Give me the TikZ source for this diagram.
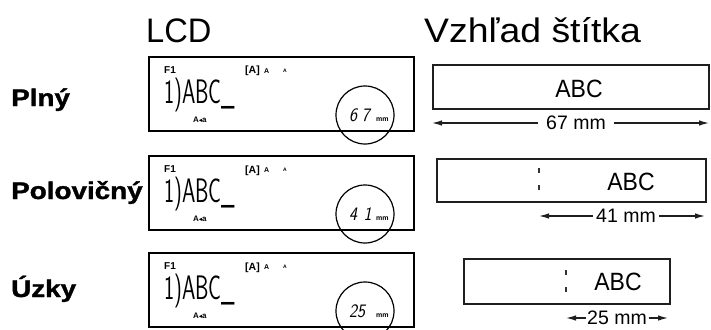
\documentclass[tikz,border=0pt]{standalone}
\usepackage{fontspec}
\setmainfont{Liberation Sans}
\newfontfamily\dv{DejaVu Sans}
\newfontfamily\heavy{Liberation Sans Bold}[FakeBold=1.3]
\usetikzlibrary{arrows.meta}
\tikzset{
  txt/.style={anchor=base west, inner sep=0pt},
  rowlabel/.style={anchor=base west, inner sep=0pt, font=\fontsize{24}{26}\selectfont\heavy},
  lcdbox/.style={draw=black, line width=1.8pt, anchor=north west, minimum width=265pt, minimum height=74pt, inner sep=0pt},
  lblbox/.style={draw=black!88, line width=1.5pt, anchor=north west, inner sep=0pt},
  zoomcirc/.style={draw=black, line width=1.2pt, circle, minimum size=58pt, inner sep=0pt},
  dim/.style={draw=black!88, line width=1.2pt, -{Latex[length=10pt,width=5.5pt]}},
  dimtext/.style={inner ysep=0pt, font=\fontsize{19.5}{20}\selectfont},
  cutmark/.style={draw=black!80, line width=1.1pt, dash pattern=on 5pt off 12pt},
}
\begin{document}
\begin{tikzpicture}[x=1pt,y=-1pt]
\useasboundingbox (0,0) rectangle (711,329);
% titles
\node[txt] (tlcd) at (146,42) {\fontsize{34}{34}\selectfont\scalebox{0.96}[1]{LCD}};
\node[txt] (tlbl) at (424,42) {\fontsize{34}{34}\selectfont\scalebox{1.1}[1]{Vzhľad štítka}};
% row labels
\node[rowlabel] (rp) at (11,106) {\scalebox{1.16}[1]{Plný}};
\node[rowlabel] (rh) at (11,199) {\scalebox{1.16}[1]{Polovičný}};
\node[rowlabel] (ru) at (11,297) {\scalebox{1.16}[1]{Úzky}};
% LCD screens
\foreach \i/\dy/\num in {1/0/{6\hspace{5pt}7},2/99/{4\hspace{7pt}1},3/196/{25}}{
  \begin{scope}[yshift=-\dy pt]
    \node[lcdbox] (lcd\i) at (148,56) {};
    \node[txt] (f\i) at (164,73) {\fontsize{10}{10}\selectfont\bfseries F1};
    \node[txt] (ca\i) at (245,74) {\fontsize{10.5}{10}\selectfont\bfseries [A]};
    \node[txt] (cb\i) at (264,73) {\fontsize{7}{7}\selectfont\bfseries A};
    \node[txt] (cc\i) at (283,72) {\fontsize{5}{5}\selectfont\bfseries A};
    \node[txt] (big\i) at (164,103) {\fontsize{34}{34}\selectfont\sffamily\scalebox{0.63}[1]{1)ABC\_}};
    \node[txt] (mode\i) at (193,122) {\fontsize{8}{8}\selectfont\bfseries A{\dv\fontsize{6.5}{6}\selectfont\char"25C2}a};
    \node[zoomcirc] (circ\i) at (365,115) {};
    \node[txt] (num\i) at (349,121) {\fontsize{19}{19}\selectfont\sffamily\itshape\scalebox{0.9}[1]{\num}};
    \node[txt] (mm\i) at (376,121) {\fontsize{7}{7}\selectfont\bfseries mm};
  \end{scope}
}
% label previews
\node[lblbox, minimum width=276pt, minimum height=44pt] (lb1) at (432,64) {};
\node[lblbox, minimum width=269pt, minimum height=43pt] (lb2) at (436,158) {};
\node[lblbox, minimum width=206pt, minimum height=45pt] (lb3) at (463,258) {};
\node[anchor=base, inner sep=0pt] (abc1) at (579,97) {\fontsize{25}{25}\selectfont\scalebox{0.92}[1]{ABC}};
\node[anchor=base, inner sep=0pt] (abc2) at (631,190) {\fontsize{25}{25}\selectfont\scalebox{0.92}[1]{ABC}};
\node[anchor=base, inner sep=0pt] (abc3) at (618,290) {\fontsize{25}{25}\selectfont\scalebox{0.92}[1]{ABC}};
\draw[cutmark] (539,168) -- (539,191);
\draw[cutmark] (566,270) -- (566,293);
% dimension arrows
\coordinate (d1l) at (432,123);
\coordinate (d1r) at (709,123);
\node[dimtext, inner xsep=8pt] (d1) at (576,123) {67 mm};
\draw[dim] (d1) -- (d1l);
\draw[dim] (d1) -- (d1r);
\coordinate (d2l) at (539,216);
\coordinate (d2r) at (705,216);
\node[dimtext, inner xsep=3pt] (d2) at (626,216) {41 mm};
\draw[dim] (d2) -- (d2l);
\draw[dim] (d2) -- (d2r);
\coordinate (d3l) at (566,318);
\coordinate (d3r) at (668,318);
\node[dimtext, inner xsep=1.5pt] (d3) at (617,318) {25 mm};
\draw[dim] (d3) -- (d3l);
\draw[dim] (d3) -- (d3r);
\end{tikzpicture}
\end{document}
